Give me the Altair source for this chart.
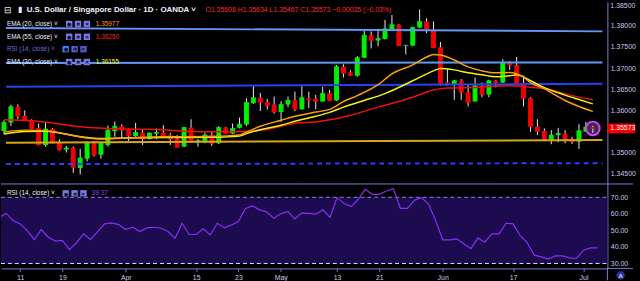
import altair as alt
import pandas as pd

# ---------------- data ----------------
mar_days = [6, 7, 8, 11, 12, 13, 14, 15, 18, 19, 20, 21, 22, 25, 26, 27, 28, 29]
apr_days = [1, 2, 3, 4, 5, 8, 9, 10, 11, 12, 15, 16, 17, 18, 19, 22, 23, 24, 25, 26, 29, 30]
may_days = [1, 2, 3, 6, 7, 8, 9, 10, 13, 14, 15, 16, 17, 20, 21, 22, 23, 24, 27, 28, 29, 30, 31]
jun_days = [3, 4, 5, 6, 7, 10, 11, 12, 13, 14, 17, 18, 19, 20, 21, 24, 25, 26, 27, 28]
jul_days = [1, 2, 3]
dates = ([f"2019-03-{d:02d}" for d in mar_days] + [f"2019-04-{d:02d}" for d in apr_days]
         + [f"2019-05-{d:02d}" for d in may_days] + [f"2019-06-{d:02d}" for d in jun_days]
         + [f"2019-07-{d:02d}" for d in jul_days])

opens = [
    1.35510, 1.35713, 1.36087, 1.35876, 1.35760, 1.35587, 1.35183, 1.35557, 1.35253, 1.35073,
    1.35113, 1.34639, 1.34856, 1.35223, 1.34949, 1.35183, 1.35510, 1.35627,
    1.35549, 1.35393, 1.35479, 1.35323, 1.35447, 1.35479, 1.35416, 1.35323, 1.35143, 1.35596,
    1.35283, 1.35260, 1.35416, 1.35223, 1.35596, 1.35456, 1.35587, 1.35666, 1.36171, 1.36297,
    1.36194, 1.36140,
    1.35961, 1.36140, 1.36241, 1.36024, 1.36288, 1.36274, 1.36211, 1.36405, 1.36234, 1.37035,
    1.36895, 1.36818, 1.37246, 1.37776, 1.37652, 1.37689, 1.37923, 1.38026, 1.37535, 1.37535,
    1.37963, 1.38103, 1.37909,
    1.37495, 1.36661, 1.36624, 1.36701, 1.36428, 1.36211, 1.36584, 1.36374, 1.36701, 1.36661,
    1.37129, 1.37075, 1.36654, 1.36288, 1.35610, 1.35510, 1.35299, 1.35416, 1.35456, 1.35323,
    1.35260, 1.35493, 1.35608]
highs = [
    1.35767, 1.36133, 1.36140, 1.36000, 1.35790, 1.35689, 1.35703, 1.35580, 1.35316, 1.35160,
    1.35143, 1.35090, 1.35260, 1.35276, 1.35237, 1.35643, 1.35736, 1.35673,
    1.35563, 1.35703, 1.35557, 1.35479, 1.35573, 1.35650, 1.35470, 1.35416, 1.35610, 1.35790,
    1.35323, 1.35470, 1.35510, 1.35627, 1.35610, 1.35689, 1.35830, 1.36288, 1.36584, 1.36414,
    1.36274, 1.36327,
    1.36218, 1.36327, 1.36444, 1.36608, 1.36444, 1.36367, 1.36561, 1.36484, 1.37075, 1.37091,
    1.36951, 1.37285, 1.37886, 1.37869, 1.37932, 1.38142, 1.38259, 1.38040, 1.37549, 1.37979,
    1.38390, 1.38180, 1.38103,
    1.37619, 1.36975, 1.36724, 1.36741, 1.36624, 1.36778, 1.36661, 1.36724, 1.36724, 1.37208,
    1.37168, 1.37262, 1.36818, 1.36311, 1.35790, 1.35573, 1.35533, 1.35587, 1.35533, 1.35377,
    1.35673, 1.35727, 1.35634]
lows = [
    1.35440, 1.35633, 1.35790, 1.35760, 1.35549, 1.35176, 1.35143, 1.35223, 1.35050, 1.35003,
    1.34522, 1.34482, 1.34793, 1.34910, 1.34856, 1.35143, 1.35377, 1.35346,
    1.35276, 1.35377, 1.35183, 1.35316, 1.35316, 1.35339, 1.35183, 1.35120, 1.35129, 1.35246,
    1.35143, 1.35223, 1.35160, 1.35206, 1.35440, 1.35440, 1.35573, 1.35633, 1.36157, 1.35984,
    1.36024, 1.35923,
    1.35727, 1.36077, 1.35984, 1.36017, 1.36054, 1.36024, 1.36211, 1.36218, 1.36227, 1.36778,
    1.36818, 1.36795, 1.37232, 1.37465, 1.37519, 1.37675, 1.37909, 1.37519, 1.37325, 1.37519,
    1.37946, 1.37829, 1.37472,
    1.36584, 1.36584, 1.36250, 1.36250, 1.36094, 1.36211, 1.36311, 1.36311, 1.36545, 1.36647,
    1.36958, 1.36631, 1.36094, 1.35493, 1.35416, 1.35299, 1.35199, 1.35246, 1.35223, 1.35206,
    1.35090, 1.35493, 1.35467]
closes = [
    1.35720, 1.36087, 1.35860, 1.35767, 1.35557, 1.35183, 1.35557, 1.35237, 1.35066, 1.35113,
    1.34653, 1.34872, 1.35223, 1.34949, 1.35223, 1.35533, 1.35627, 1.35533,
    1.35400, 1.35479, 1.35323, 1.35463, 1.35479, 1.35393, 1.35323, 1.35129, 1.35596, 1.35260,
    1.35290, 1.35416, 1.35223, 1.35596, 1.35456, 1.35573, 1.35673, 1.36187, 1.36297, 1.36194,
    1.36117, 1.35961,
    1.36140, 1.36241, 1.36024, 1.36297, 1.36250, 1.36211, 1.36405, 1.36234, 1.37035, 1.36881,
    1.36825, 1.37246, 1.37776, 1.37652, 1.37699, 1.37932, 1.38026, 1.37535, 1.37542, 1.37963,
    1.38103, 1.37923, 1.37479,
    1.36638, 1.36624, 1.36701, 1.36428, 1.36194, 1.36584, 1.36374, 1.36701, 1.36661, 1.37129,
    1.37075, 1.36638, 1.36288, 1.35610, 1.35493, 1.35316, 1.35416, 1.35456, 1.35316, 1.35260,
    1.35517, 1.35608, 1.35573]
rsi = [
    57.5, 60.4, 55.9, 53.9, 49.9, 44.5, 50.5, 45.9, 43.5, 43.9, 38.4, 42.5, 47.9, 44.5, 49.3,
    53.9, 54.5, 53.5,
    50.5, 51.9, 49.3, 51.5, 51.9, 51.3, 49.3, 45.3, 54.3, 47.5, 47.5, 50.9, 47.3, 54.3, 51.5,
    53.3, 55.3, 63.3, 64.8, 62.4, 61.2, 57.3,
    60.0, 61.5, 56.9, 60.6, 60.3, 59.8, 62.4, 57.9, 69.8, 66.2, 64.4, 68.8, 74.8, 71.8, 71.8,
    73.8, 75.2, 63.3, 63.3, 68.2, 69.8, 65.8, 55.9,
    44.3, 44.3, 44.9, 41.9, 39.0, 45.3, 43.0, 47.9, 47.9, 54.3, 53.9, 46.9, 42.5, 35.0, 34.0,
    32.6, 34.6, 34.6, 33.4, 33.0,
    38.0, 39.4, 39.37]

ema20_dates = ["2019-03-06", "2019-03-11", "2019-03-14", "2019-03-18", "2019-03-20", "2019-03-22",
               "2019-03-26", "2019-03-29", "2019-04-03", "2019-04-08", "2019-04-11", "2019-04-17",
               "2019-04-23", "2019-04-24", "2019-04-26", "2019-05-01", "2019-05-03", "2019-05-08",
               "2019-05-10", "2019-05-14", "2019-05-16", "2019-05-21", "2019-05-23", "2019-05-28",
               "2019-05-30", "2019-05-31", "2019-06-03", "2019-06-05", "2019-06-07", "2019-06-11",
               "2019-06-13", "2019-06-17", "2019-06-18", "2019-06-19", "2019-06-20", "2019-06-24",
               "2019-06-25", "2019-06-27", "2019-07-01", "2019-07-03"]
ema20_vals = [1.35486, 1.35533, 1.35521, 1.35474, 1.35404, 1.35346, 1.35322, 1.35339, 1.35362,
              1.35376, 1.35376, 1.35381, 1.35416, 1.35486, 1.35626, 1.35766, 1.35860, 1.35960,
              1.36023, 1.36210, 1.36350, 1.36607, 1.36864, 1.37075, 1.37262, 1.37320, 1.37308,
              1.37192, 1.37028, 1.36935, 1.36888, 1.36895, 1.36864, 1.36794, 1.36654, 1.36514,
              1.36421, 1.36234, 1.36093, 1.35977]

ema30_dates = ["2019-03-06", "2019-03-11", "2019-03-14", "2019-03-18", "2019-03-20", "2019-03-22",
               "2019-03-26", "2019-03-29", "2019-04-03", "2019-04-08", "2019-04-11", "2019-04-17",
               "2019-04-23", "2019-04-24", "2019-04-26", "2019-05-01", "2019-05-03", "2019-05-08",
               "2019-05-10", "2019-05-14", "2019-05-17", "2019-05-22", "2019-05-28", "2019-05-31",
               "2019-06-03", "2019-06-05", "2019-06-07", "2019-06-11", "2019-06-13", "2019-06-17",
               "2019-06-18", "2019-06-20", "2019-06-24", "2019-06-27", "2019-07-01", "2019-07-03"]
ema30_vals = [1.35439, 1.35498, 1.35509, 1.35463, 1.35404, 1.35357, 1.35334, 1.35346, 1.35353,
              1.35357, 1.35357, 1.35362, 1.35393, 1.35451, 1.35544, 1.35650, 1.35743, 1.35860,
              1.35953, 1.36077, 1.36234, 1.36397, 1.36701, 1.36935, 1.36993, 1.36958, 1.36888,
              1.36841, 1.36794, 1.36818, 1.36841, 1.36701, 1.36537, 1.36362, 1.36257, 1.36154]

ema55_dates = ["2019-03-06", "2019-03-12", "2019-03-15", "2019-03-21", "2019-03-27", "2019-04-02",
               "2019-04-08", "2019-04-11", "2019-04-18", "2019-04-23", "2019-04-29", "2019-05-01",
               "2019-05-03", "2019-05-08", "2019-05-14", "2019-05-21", "2019-05-28", "2019-05-31",
               "2019-06-04", "2019-06-10", "2019-06-17", "2019-06-20", "2019-06-25", "2019-06-27",
               "2019-07-03"]
ema55_vals = [1.35778, 1.35755, 1.35703, 1.35614, 1.35572, 1.35556, 1.35540, 1.35509, 1.35493,
              1.35498, 1.35556, 1.35626, 1.35696, 1.35727, 1.35843, 1.36077, 1.36311, 1.36484,
              1.36530, 1.36544, 1.36584, 1.36549, 1.36484, 1.36390, 1.36250]

# drawn trend / level lines: price at left edge, price at right edge
trend_names = ["upper", "middle", "blue", "gold", "dashed"]
trend_left = [1.37951, 1.37121, 1.36561, 1.35236, 1.34731]
trend_right = [1.37869, 1.37133, 1.36631, 1.35299, 1.34750]

price_ticks = [1.345, 1.350, 1.360, 1.365, 1.370, 1.375, 1.380]
top_tick = ["1.38500"]
rsi_ticks = [30, 40, 50, 60, 70]
rsi_band = [30, 70]
tick_dates = ["2019-03-11", "2019-03-19", "2019-04-01", "2019-04-15", "2019-04-23", "2019-05-01",
              "2019-05-13", "2019-05-21", "2019-06-03", "2019-06-17", "2019-07-01"]
tick_labels = ["11", "19", "Apr", "15", "23", "May", "13", "21", "Jun", "17", "Jul"]

# ---------------- chart ----------------
W, HP, HR = 614, 184, 86
FONT = "Liberation Sans"
AXC = "#7a7ae0"
LBL = "#c8c8f0"
GREEN, RED, WICK = "#00ee00", "#f20000", "#e8e8fa"

n = len(dates)
df = pd.DataFrame({"date": dates, "idx": list(range(n)), "open": opens, "high": highs,
                   "low": lows, "close": closes, "rsi": rsi})

X_DOMAIN = [0.2805, 86.39]
xs = alt.Scale(domain=X_DOMAIN, nice=False, zero=False)
ps = alt.Scale(domain=[1.34271, 1.38570], nice=False, zero=False)
rs = alt.Scale(domain=[27.0, 78.36], nice=False, zero=False)
xq = alt.X("idx:Q", scale=xs, axis=None)
dummy = pd.DataFrame({"k": [0]})

candle_color = alt.condition("datum.close >= datum.open", alt.value(GREEN), alt.value(RED))

paxis = alt.Axis(orient="right", values=price_ticks, format=".5f", labelColor=LBL, labelFont=FONT,
                 labelFontSize=7, ticks=False, domainColor=AXC, grid=False, title=None,
                 labelPadding=3, labelFlush=False, labelOverlap=False)
raxis = alt.Axis(orient="right", values=rsi_ticks, format=".2f", labelColor=LBL, labelFont=FONT,
                 labelFontSize=7, ticks=False, domainColor=AXC, grid=False, title=None,
                 labelPadding=3, labelFlush=False, labelOverlap=False)


def yP(field):
    return alt.Y(field, scale=ps, axis=paxis)


def yR(field):
    return alt.Y(field, scale=rs, axis=raxis)


def candles(data):
    b = alt.Chart(data)
    w = b.mark_rule(color=WICK, strokeWidth=1, clip=True).encode(
        x=xq, y=yP("low:Q"), y2="high:Q")
    body = b.mark_bar(size=5, clip=True).encode(
        x=xq, y=yP("open:Q"), y2="close:Q", color=candle_color)
    tk = b.mark_tick(orient="horizontal", size=5, thickness=1, clip=True).encode(
        x=xq, y=yP("close:Q"), color=candle_color)
    return [w, body, tk]


def tline(p0, p1, color, width=2.0, dash=None):
    d = pd.DataFrame({"idx": X_DOMAIN, "price": [p0, p1]})
    kw = dict(color=color, strokeWidth=width, clip=True)
    if dash:
        kw["strokeDash"] = dash
    return alt.Chart(d).mark_line(**kw).encode(x=xq, y=yP("price:Q"))


def ema(ds, vals, color):
    d = pd.DataFrame({"idx": [dates.index(s) for s in ds], "price": vals})
    return alt.Chart(d).mark_line(color=color, strokeWidth=1.5, interpolate="monotone", clip=True).encode(
        x=xq, y=yP("price:Q"))


def txt(s, x, y, color, size=7, bold=False, align="left", baseline="middle"):
    return alt.Chart(dummy).mark_text(align=align, baseline=baseline, font=FONT, fontSize=size,
                                      fontWeight="bold" if bold else "normal", color=color).encode(
        x=alt.value(x), y=alt.value(y), text=alt.value(s))


def icons(x0, y, first="#7b7be8", fill="#7b7be8"):
    out = []
    for i, g in enumerate(["◉", "✲", "✕"]):
        cx = x0 + i * 9
        out.append(alt.Chart(dummy).mark_square(size=42, color=first if i == 0 else fill, opacity=1).encode(
            x=alt.value(cx), y=alt.value(y)))
        out.append(txt(g, cx, y + 0.3, "#101030", size=5, bold=True, align="center"))
    return out


tcolors = ["#5f98f6", "#5f98f6", "#2342f5", "#d9a51c", "#2342ff"]
trend_layers = []
for nm, a, b, c in zip(trend_names, trend_left, trend_right, tcolors):
    trend_layers.append(tline(a, b, c, 2.0, [5, 4] if nm == "dashed" else None))

last = df.iloc[[-1]]
circle = alt.Chart(last).mark_circle(size=190, fill="#2e2e5c", stroke="#e23ef2", strokeWidth=2,
                                     fillOpacity=1, strokeOpacity=1).encode(
    x=xq, y=yP("close:Q"))
plabel = alt.Chart(last).mark_rule(color=RED, strokeWidth=10).encode(
    y=yP("close:Q"), x=alt.value(W), x2=alt.value(642))
ptext = alt.Chart(last).mark_text(align="left", baseline="middle", font=FONT, fontSize=7,
                                  color="#ffffff").encode(
    y=yP("close:Q"), x=alt.value(W + 3), text=alt.Text("close:Q", format=".5f"))

header = [
    txt("⊟", 3, 8, "#e8e8ff", 9),
    txt("▮", 17, 8, "#e8e8ff", 8),
    txt("U.S. Dollar / Singapore Dollar · 1D · OANDA ˅", 26, 8, "#f2f2ff", 8, bold=True),
    txt("O1.35608  H1.35634  L1.35467  C1.35573  −0.00035 (−0.03%)", 207, 8, "#ff2a2a", 7),
    txt("EMA (20, close) ˅", 6, 22.5, "#eeeeff", 6.5),
    txt("1.35977", 96, 22.5, "#ff9f1a", 6.5),
    txt("EMA (55, close) ˅", 6, 35.5, "#eeeeff", 6.5),
    txt("1.36250", 96, 35.5, "#ff2020", 6.5),
    txt("RSI (14, close) ˅", 6, 48, "#6a6ad8", 6.5),
    txt("EMA (30, close) ˅", 6, 61, "#eeeeff", 6.5),
    txt("1.36155", 96, 61, "#f4f41e", 6.5),
    # top price label, drawn flush with the top edge like the (cut) original
    txt(top_tick[0], W + 3, 0, LBL, 7, baseline="top"),
]
header += icons(69, 22.5) + icons(69, 35.5) + icons(65.5, 48, first="#2f86ff", fill="#5a5ad0") + icons(69, 61)

price = alt.layer(
    *candles(df), *trend_layers,
    ema(ema55_dates, ema55_vals, "#ee1111"),
    ema(ema30_dates, ema30_vals, "#f2f21a"),
    ema(ema20_dates, ema20_vals, "#ff9d12"),
    circle, *candles(last), plabel, ptext, *header,
).properties(width=W, height=HP)

# ---------------- RSI pane ----------------
xlab = "''"
for d, l in zip(reversed(tick_dates), reversed(tick_labels)):
    xlab = f"datum.value == {dates.index(d)} ? '{l}' : ({xlab})"
xaxis = alt.Axis(orient="bottom", values=[dates.index(d) for d in tick_dates], labelExpr=xlab,
                 labelColor=LBL, labelFont=FONT, labelFontSize=7, tickColor=AXC, tickSize=3,
                 domainColor=AXC, labelPadding=2, grid=False, title=None, labelFlush=False,
                 labelOverlap=False)

band = alt.Chart(pd.DataFrame({"lo": [rsi_band[0]], "hi": [rsi_band[1]]})).mark_rect(color="#1c0c4f").encode(
    x=alt.value(0), x2=alt.value(W), y=yR("lo:Q"), y2="hi:Q")
lvl70 = alt.Chart(pd.DataFrame({"v": [rsi_band[1]]})).mark_rule(color="#8f83ec", strokeDash=[4, 3], strokeWidth=1).encode(
    x=alt.value(0), x2=alt.value(W), y=yR("v:Q"))
lvl30 = alt.Chart(pd.DataFrame({"v": [rsi_band[0]]})).mark_rule(color="#e4e4ff", strokeDash=[4, 3], strokeWidth=1).encode(
    x=alt.value(0), x2=alt.value(W), y=yR("v:Q"))
rsiline = alt.Chart(df).mark_line(color="#8a2cf6", strokeWidth=1.2, clip=True).encode(
    x=alt.X("idx:Q", scale=xs, axis=xaxis), y=yR("rsi:Q"))


def hrule(y, x0=0, x1=640):
    return alt.Chart(dummy).mark_rule(color=AXC, strokeWidth=1).encode(
        x=alt.value(x0), x2=alt.value(x1), y=alt.value(y))


vtail = alt.Chart(dummy).mark_rule(color=AXC, strokeWidth=1).encode(
    x=alt.value(W), y=alt.value(HR), y2=alt.value(HR + 12))
aicon = alt.Chart(dummy).mark_circle(size=70, color="#33339a", opacity=1).encode(
    x=alt.value(627.5), y=alt.value(93))

rsi_layers = [band, lvl70, lvl30, rsiline, hrule(0.5), hrule(HR, W, 640), vtail, aicon,
              txt("A", 627.5, 93.3, "#d8d8ff", 6, bold=True, align="center"),
              txt("RSI (14, close) ˅", 6, 10, "#eeeeff", 6.5),
              txt("39.37", 92, 10, "#9a3cff", 6.5)] + icons(65.5, 10)

rsi_chart = alt.layer(*rsi_layers).properties(width=W, height=HR)

chart = alt.vconcat(price, rsi_chart, spacing=0, bounds="flush").properties(
    padding=0, background="#000000").configure_view(strokeWidth=0)

chart.save("out.html", embed_options={"renderer": "svg", "actions": False})
